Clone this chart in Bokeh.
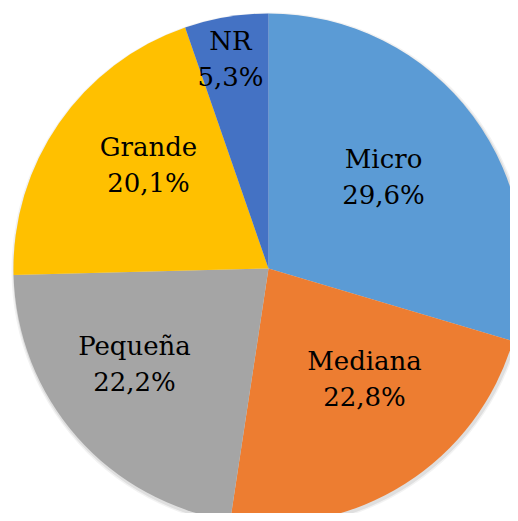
import math
from bokeh.plotting import figure
from bokeh.models import Range1d, ColumnDataSource
from bokeh.core.properties import value
from bokeh.embed import file_html
from bokeh.resources import INLINE

categories = ["Micro", "Mediana", "Pequeña", "Grande", "NR"]
shares = [29.6, 22.8, 22.2, 20.1, 5.3]
pct_labels = ["29,6%", "22,8%", "22,2%", "20,1%", "5,3%"]
colors = ["#5B9BD5", "#ED7D31", "#A5A5A5", "#FFC000", "#4472C4"]

# label anchor positions (image pixel coords, first line)
label_x = [383, 364, 134, 148, 230]
label_y = [158, 360, 345, 146, 40]

W, H = 510, 513

def ty(img_y):
    return H - img_y

cx, cy, R = 268, ty(268), 255

total = sum(shares)
starts, ends = [], []
cum = 0.0
for s in shares:
    starts.append(math.radians(90 - cum / total * 360))
    cum += s
    ends.append(math.radians(90 - cum / total * 360))

src = ColumnDataSource(dict(cat=categories, start=starts, end=ends, color=colors))

p = figure(width=W, height=H, x_range=Range1d(0, W), y_range=Range1d(0, H),
           output_backend="svg", toolbar_location=None, min_border=0)
p.axis.visible = False
p.grid.visible = False
p.outline_line_color = None
p.background_fill_color = "white"
p.border_fill_color = "white"

# soft shadow
p.circle(x=[cx + 1], y=[cy - 2], radius=R + 3, fill_color="#000000", fill_alpha=0.05, line_color=None)
p.circle(x=[cx + 1], y=[cy - 2], radius=R + 1.5, fill_color="#000000", fill_alpha=0.08, line_color=None)

p.wedge(x=cx, y=cy, radius=R, start_angle="start", end_angle="end", direction="clock",
        fill_color="color", line_color=None, source=src)

font = value("DejaVu Serif")
line1 = ColumnDataSource(dict(x=label_x, y=[ty(v) for v in label_y], t=categories))
line2 = ColumnDataSource(dict(x=label_x, y=[ty(v + 36) for v in label_y], t=pct_labels))
for s in (line1, line2):
    p.text(x="x", y="y", text="t", source=s, text_font=font,
           text_font_size="26px", text_align="center", text_baseline="alphabetic",
           text_color="#000000")

open("out.html", "w").write(file_html(p, INLINE))
